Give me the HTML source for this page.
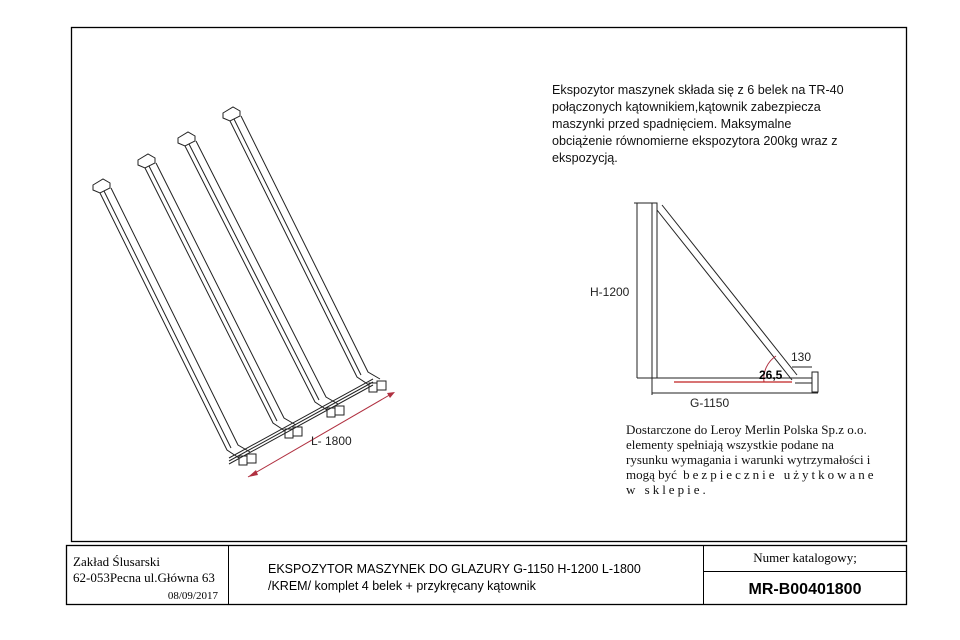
<!DOCTYPE html>
<html><head><meta charset="utf-8"><style>
body{margin:0;background:#fff}
svg{display:block}
.s{font-family:"Liberation Sans",sans-serif}
.r{font-family:"Liberation Serif",serif}
</style></head><body>
<svg width="960" height="640" viewBox="0 0 960 640">
<rect x="71.5" y="27.5" width="835" height="514" fill="none" stroke="#000" stroke-width="1.3"/>
<g id="beams" stroke="#222" stroke-width="1" fill="none"></g>
<line x1="248" y1="477" x2="393" y2="393" stroke="#b03040" stroke-width="1"/>
<polygon points="248,477 256,470 258,475" fill="#b03040"/>
<polygon points="395,392 387,393 390,398" fill="#b03040"/>
<text x="311" y="445" class="s" font-size="12" fill="#222">L- 1800</text>

<g class="s" font-size="12.6" fill="#111">
<text x="552" y="94">Ekspozytor maszynek składa się z 6 belek na TR-40</text>
<text x="552" y="111">połączonych kątownikiem,kątownik zabezpiecza</text>
<text x="552" y="128">maszynki przed spadnięciem. Maksymalne</text>
<text x="552" y="145">obciążenie równomierne ekspozytora 200kg wraz z</text>
<text x="552" y="162">ekspozycją.</text>
</g>

<g stroke="#222" stroke-width="1" fill="none">
<rect x="652" y="203" width="5" height="175"/>
<line x1="657" y1="210" x2="792" y2="380"/>
<line x1="662" y1="205" x2="797" y2="375"/>
<line x1="637" y1="203" x2="637" y2="378"/>
<line x1="634" y1="203" x2="652" y2="203"/>
<line x1="637" y1="378" x2="812" y2="378"/>
<line x1="652" y1="378" x2="652" y2="395"/>
<line x1="652" y1="393" x2="818" y2="393"/>
<rect x="812" y="372" width="6" height="20"/>
<line x1="795" y1="383" x2="812" y2="383"/>
<path d="M792 367 h20" />
<path d="M776 356 A27 27 0 0 0 764 382" stroke="#b03040"/>
</g>
<line x1="674" y1="382" x2="792" y2="382" stroke="#c02020" stroke-width="1.2"/>
<text x="590" y="296" class="s" font-size="12" fill="#222">H-1200</text>
<text x="690" y="407" class="s" font-size="12" fill="#222">G-1150</text>
<text x="791" y="361" class="s" font-size="12" fill="#222">130</text>
<text x="759" y="379" class="s" font-size="12" font-weight="bold" fill="#000">26,5</text>

<g class="r" font-size="13" fill="#111">
<text x="626" y="434">Dostarczone do Leroy Merlin Polska Sp.z o.o.</text>
<text x="626" y="449">elementy spełniają wszystkie podane na</text>
<text x="626" y="464">rysunku wymagania i warunki wytrzymałości i</text>
<text x="626" y="479">mogą być<tspan letter-spacing="3"> bezpiecznie użytkowane</tspan></text>
<text x="626" y="494" letter-spacing="3">w sklepie.</text>
</g>

<g>
<rect x="66.5" y="545.5" width="840" height="59" fill="none" stroke="#000" stroke-width="1.3"/>
<line x1="228.5" y1="545" x2="228.5" y2="605" stroke="#000"/>
<line x1="703.5" y1="545" x2="703.5" y2="605" stroke="#000"/>
<line x1="703" y1="571.5" x2="907" y2="571.5" stroke="#000"/>
<text x="73" y="566" class="r" font-size="13">Zakład Ślusarski</text>
<text x="73" y="582" class="r" font-size="13">62-053Pecna ul.Główna 63</text>
<text x="218" y="599" class="r" font-size="11" text-anchor="end">08/09/2017</text>
<text x="268" y="573" class="s" font-size="12.5">EKSPOZYTOR MASZYNEK DO GLAZURY G-1150 H-1200 L-1800</text>
<text x="268" y="590" class="s" font-size="12.5">/KREM/ komplet 4 belek + przykręcany kątownik</text>
<text x="805" y="562" class="r" font-size="13" text-anchor="middle">Numer katalogowy;</text>
<text x="805" y="594" class="s" font-size="16" font-weight="bold" text-anchor="middle">MR-B00401800</text>
</g>
</svg>
<script>
const beamTops=[[100,187],[145,162],[185,140],[230,115]];
const beamBends=[[227,450],[273,423],[315,402],[357,377]];
const g=document.getElementById('beams');
const NS='http://www.w3.org/2000/svg';
function add(tag,attrs,name){const e=document.createElementNS(NS,tag);for(const k in attrs)e.setAttribute(k,attrs[k]);


g.appendChild(e);return e;}
beamTops.forEach((t,i)=>{
  const b=beamBends[i];
  add('polygon',{points:`${t[0]-7},${t[1]-2} ${t[0]+3},${t[1]-8} ${t[0]+10},${t[1]-4} ${t[0]+10},${t[1]+1} ${t[0]},${t[1]+6} ${t[0]-7},${t[1]+3}`},'beam-cap');
  add('path',{d:`M${t[0]} ${t[1]+6} L${b[0]} ${b[1]} L${b[0]+12} ${b[1]+8} M${t[0]+4} ${t[1]+4} L${b[0]+4} ${b[1]-2} M${t[0]+11} ${t[1]+1} L${b[0]+11} ${b[1]-5} L${b[0]+23} ${b[1]+2}`},'beam-body');
  add('rect',{x:b[0]+12,y:b[1]+6,width:8,height:9},'beam-foot-left');
  add('rect',{x:b[0]+20,y:b[1]+4,width:9,height:9},'beam-foot-right');
});
const f=beamBends[0],l=beamBends[3];
add('path',{d:`M${f[0]+2} ${f[1]+8} L${l[0]+16} ${l[1]+2} M${f[0]+2} ${f[1]+11} L${l[0]+16} ${l[1]+5} M${f[0]+2} ${f[1]+14} L${l[0]+16} ${l[1]+8}`},'cross-angle-bar');
</script>
</body></html>
